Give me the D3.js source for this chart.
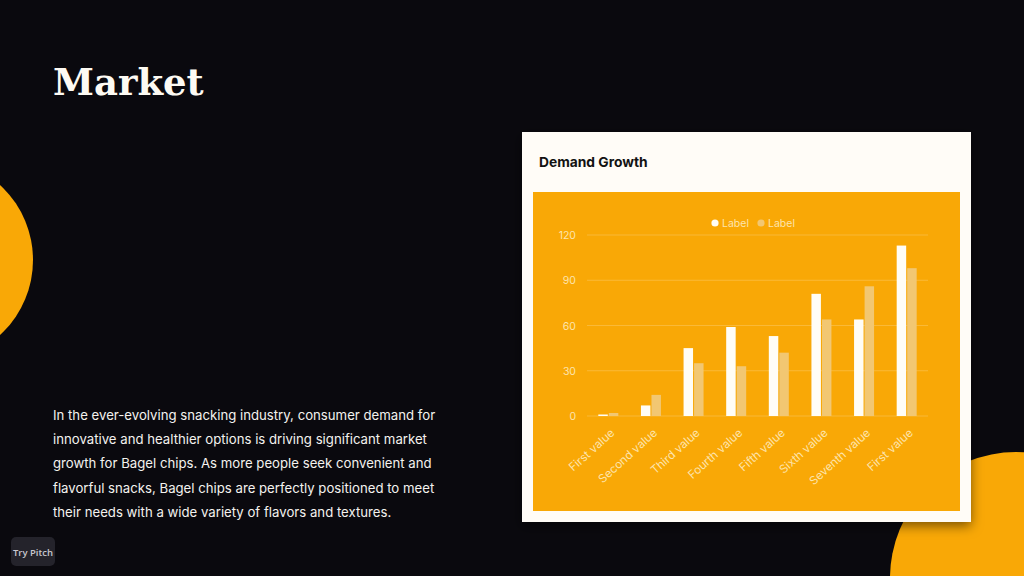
<!DOCTYPE html>
<html>
<head>
<meta charset="utf-8">
<script src="https://cdn.jsdelivr.net/npm/d3@7"></script>
<style>
  html, body { margin: 0; padding: 0; background: #0a090e; }
  svg { display: block; }
</style>
</head>
<body>
<svg id="slide" width="1024" height="576"></svg>
<script>
// Demand Growth slide, bars drawn from the arrays below
const categories = ["First value", "Second value", "Third value", "Fourth value",
  "Fifth value", "Sixth value", "Seventh value", "First value"];
const seriesA = [1, 7, 45, 59, 53, 81, 64, 113];
const seriesB = [2, 14, 35, 33, 42, 64, 86, 98];
const seriesNames = ["Label", "Label"];
const yTicks = [0, 30, 60, 90, 120];
const paragraph = [
  "In the ever-evolving snacking industry, consumer demand for",
  "innovative and healthier options is driving significant market",
  "growth for Bagel chips. As more people seek convenient and",
  "flavorful snacks, Bagel chips are perfectly positioned to meet",
  "their needs with a wide variety of flavors and textures."
];

const orange = "#f9a806";
const colors = ["#fffdf6", "#f2c772"];
const sans = "Inter, 'Noto Sans', sans-serif";

const svg = d3.select("#slide");

const defs = svg.append("defs");
const shadow = defs.append("filter").attr("id", "shadow")
  .attr("x", "-10%").attr("y", "-10%").attr("width", "130%").attr("height", "130%");
shadow.append("feDropShadow")
  .attr("dx", 0).attr("dy", 4).attr("stdDeviation", 6)
  .attr("flood-color", "#000").attr("flood-opacity", 0.5);

svg.append("rect").attr("width", 1024).attr("height", 576).attr("fill", "#0a090e");

// decorative circles
svg.append("circle").attr("cx", -69).attr("cy", 260).attr("r", 102).attr("fill", orange);
svg.append("circle").attr("cx", 1016).attr("cy", 578).attr("r", 126).attr("fill", orange);

svg.append("text")
  .attr("x", 53).attr("y", 95)
  .attr("font-family", "'DejaVu Serif', serif")
  .attr("font-weight", "bold")
  .attr("font-size", 37)
  .attr("fill", "#fdfaf3")
  .text("Market");

svg.append("g")
  .selectAll("text")
  .data(paragraph)
  .join("text")
  .attr("x", 53)
  .attr("y", (d, i) => 420 + i * 24.2)
  .attr("font-family", sans)
  .attr("font-size", 13.2)
  .attr("fill", "#f4f2ee")
  .text(d => d);

// Try Pitch badge
svg.append("rect").attr("x", 11).attr("y", 537).attr("width", 44).attr("height", 29)
  .attr("rx", 5).attr("fill", "#24232b");
svg.append("text").attr("x", 33).attr("y", 555.5).attr("text-anchor", "middle")
  .attr("font-family", "'Open Sans', sans-serif").attr("font-weight", 600)
  .attr("font-size", 9.5).attr("fill", "#c9c8cf").text("Try Pitch");

// card
svg.append("rect").attr("x", 522).attr("y", 132).attr("width", 449).attr("height", 390)
  .attr("fill", "#fffcf7").attr("filter", "url(#shadow)");
svg.append("text").attr("x", 539).attr("y", 166.5)
  .attr("font-family", sans).attr("font-weight", 700)
  .attr("font-size", 13.8).attr("fill", "#121212").text("Demand Growth");
svg.append("rect").attr("x", 533).attr("y", 192).attr("width", 427).attr("height", 319)
  .attr("fill", orange);

// chart
const x = d3.scaleBand().domain(d3.range(categories.length)).range([587, 928]);
const xs = d3.scaleBand().domain([0, 1]).range([0, 20]).paddingInner(0.1);
const y = d3.scaleLinear().domain([0, 120]).range([416, 235]);

const grid = svg.append("g");
grid.selectAll("line")
  .data(yTicks)
  .join("line")
  .attr("x1", 587).attr("x2", 928)
  .attr("y1", d => y(d)).attr("y2", d => y(d))
  .attr("stroke", "rgba(255,255,255,0.2)")
  .attr("stroke-width", 1);

const yAxis = svg.append("g")
  .attr("transform", "translate(576,0)")
  .call(d3.axisLeft(y).tickValues(yTicks).tickSize(0).tickPadding(0));
yAxis.select(".domain").remove();
yAxis.selectAll("text")
  .attr("font-family", sans).attr("font-size", 10.5)
  .attr("fill", "#fde4ad").attr("dy", "0.35em");

const groups = svg.append("g")
  .selectAll("g")
  .data(categories.map((c, i) => [seriesA[i], seriesB[i]]))
  .join("g")
  .attr("transform", (d, i) => `translate(${x(i) + x.bandwidth() / 2 - 10},0)`);

groups.selectAll("rect")
  .data(d => d)
  .join("rect")
  .attr("x", (d, j) => xs(j))
  .attr("width", xs.bandwidth())
  .attr("y", d => y(d))
  .attr("height", d => y(0) - y(d))
  .attr("fill", (d, j) => colors[j]);

const xAxis = svg.append("g")
  .attr("transform", `translate(0,${y(0)})`)
  .call(d3.axisBottom(x).tickFormat(i => categories[i]).tickSize(0).tickPadding(0));
xAxis.select(".domain").remove();
xAxis.selectAll("text")
  .attr("font-family", sans).attr("font-size", 11.6)
  .attr("fill", "#fde4ad")
  .attr("text-anchor", "end")
  .attr("dy", 0)
  .attr("transform", "translate(7,18) rotate(-42)");

// legend
const legend = svg.append("g").attr("transform", "translate(715,223)");
const items = legend.selectAll("g")
  .data(seriesNames)
  .join("g")
  .attr("transform", (d, i) => `translate(${i * 46},0)`);
items.append("circle").attr("r", 3.6).attr("fill", (d, i) => colors[i]);
items.append("text").attr("x", 7).attr("dy", "0.35em")
  .attr("font-family", sans).attr("font-size", 10.5)
  .attr("fill", "#fde4ad").text(d => d);
</script>
</body>
</html>
